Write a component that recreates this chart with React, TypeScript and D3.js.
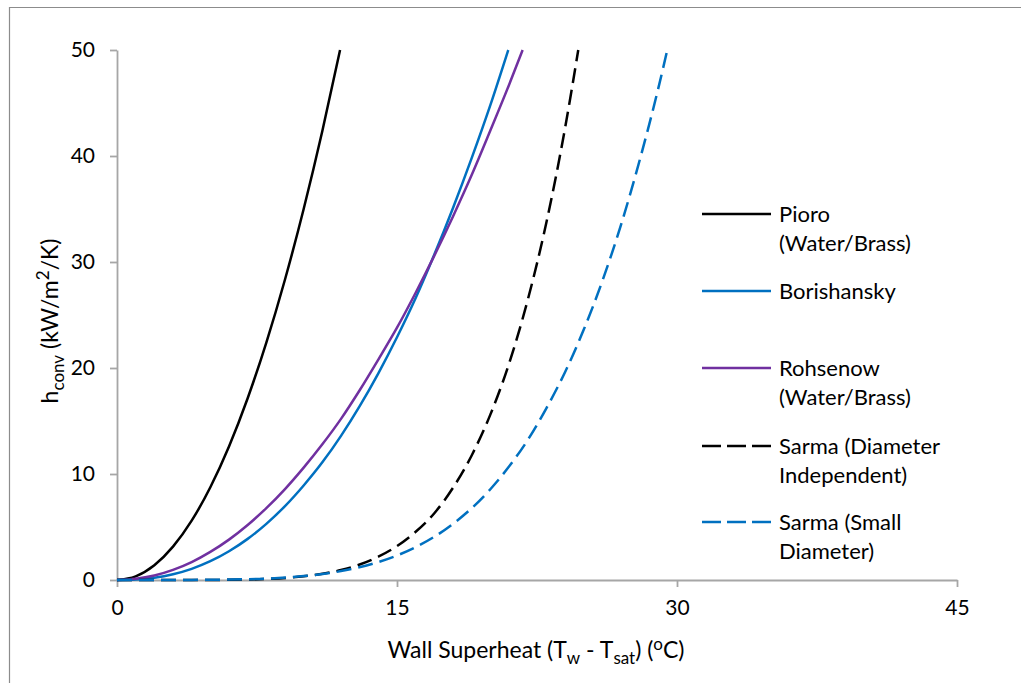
import * as d3 from "d3";
import { useEffect, useRef } from "react";

// wall superheat (°C) and h_conv (kW/m2/K)
const pioroT = [0, 1, 2, 3, 4, 5, 6, 7, 8, 9, 10, 11, 11.95];
const pioroH = [0, 0.35, 1.4, 3.15, 5.6, 8.75, 12.6, 17.15, 22.4, 28.35, 35.0, 42.35, 50];

const borishT = [0, 1, 2, 3, 4, 5, 6, 7, 8, 9, 10, 11, 12, 13, 14, 15, 16, 17, 18, 19, 20, 20.96];
const borishH = [0, 0.04, 0.21, 0.54, 1.05, 1.77, 2.71, 3.88, 5.3, 6.97, 8.92, 11.1, 13.6, 16.4, 19.5, 22.9, 26.6, 30.7, 35.1, 39.8, 44.8, 50];

const rohsT = [0, 1, 2, 3, 4, 5, 6, 7, 8, 9, 10, 11, 12, 13, 14, 15, 16, 17, 18, 19, 20, 21, 21.73];
const rohsH = [0, 0.11, 0.42, 0.95, 1.69, 2.65, 3.81, 5.19, 6.78, 8.58, 10.6, 12.8, 15.2, 17.9, 20.8, 23.8, 27.1, 30.6, 34.3, 38.2, 42.4, 46.7, 50];

const sarmaDiT = [0, 4, 6, 8, 10, 12, 13, 14, 15, 16, 17, 18, 19, 20, 21, 22, 23, 24, 24.71];
const sarmaDiH = [0, 0.0, 0.02, 0.1, 0.35, 0.94, 1.46, 2.2, 3.2, 4.55, 6.3, 8.7, 11.75, 15.6, 20.4, 26.4, 33.7, 42.6, 50];

const sarmaSmT = [0, 4, 6, 8, 10, 12, 14, 15, 16, 17, 18, 19, 20, 21, 22, 23, 24, 25, 26, 27, 28, 29, 29.48];
const sarmaSmH = [0, 0.01, 0.04, 0.13, 0.37, 0.84, 1.69, 2.31, 3.1, 4.08, 5.3, 6.77, 8.56, 10.7, 13.2, 16.2, 19.6, 23.6, 28.2, 33.5, 39.6, 46.4, 50];

const xTicks = [0, 15, 30, 45];
const yTicks = [0, 10, 20, 30, 40, 50];

const series = [
  { name: ["Pioro", "(Water/Brass)"], t: pioroT, h: pioroH, color: "#000000", dash: null, ly: 214 },
  { name: ["Borishansky"], t: borishT, h: borishH, color: "#0070c0", dash: null, ly: 291 },
  { name: ["Rohsenow", "(Water/Brass)"], t: rohsT, h: rohsH, color: "#7030a0", dash: null, ly: 368 },
  { name: ["Sarma (Diameter", "Independent)"], t: sarmaDiT, h: sarmaDiH, color: "#000000", dash: "15,7", ly: 446 },
  { name: ["Sarma (Small", "Diameter)"], t: sarmaSmT, h: sarmaSmH, color: "#0070c0", dash: "15,7", ly: 522 },
];

const App = () => {
  const ref = useRef<SVGSVGElement>(null);

  useEffect(() => {
    const svg = d3.select(ref.current);
    svg.selectAll("*").remove();
    const font = "Lato, 'Open Sans', sans-serif";
    const axisColor = "#a6a6a6";

    // outer chart frame (only top and left edges visible)
    svg.append("path")
      .attr("d", "M9.5,683 V7.5 H1021")
      .attr("fill", "none")
      .attr("stroke", "#8c8c8c")
      .attr("stroke-width", 1.2);

    const x = d3.scaleLinear().domain([0, 45]).range([117, 957]);
    const y = d3.scaleLinear().domain([0, 50]).range([580, 50]);

    // axes
    const yAxis = svg.append("g")
      .attr("transform", "translate(117,0)")
      .call(d3.axisLeft(y).tickValues(yTicks).tickSize(7).tickSizeOuter(0).tickPadding(15));
    const xAxis = svg.append("g")
      .attr("transform", "translate(0,580)")
      .call(d3.axisBottom(x).tickValues(xTicks).tickSize(7).tickSizeOuter(0).tickPadding(13));
    [xAxis, yAxis].forEach((g) => {
      g.select(".domain").attr("stroke", axisColor).attr("stroke-width", 1.8);
      g.selectAll(".tick line").attr("stroke", axisColor).attr("stroke-width", 1.8);
      g.selectAll(".tick text")
        .attr("fill", "#000")
        .style("font-family", font)
        .style("font-size", "21px");
    });

    // curves
    const line = d3.line<[number, number]>()
      .x((d) => x(d[0]))
      .y((d) => y(d[1]))
      .curve(d3.curveMonotoneX);

    series.forEach((s) => {
      const pts = s.t.map((t, i) => [t, s.h[i]] as [number, number]);
      svg.append("path")
        .attr("d", line(pts))
        .attr("fill", "none")
        .attr("stroke", s.color)
        .attr("stroke-width", 2.5)
        .attr("stroke-dasharray", s.dash);
    });

    // legend
    series.forEach((s) => {
      svg.append("line")
        .attr("x1", 702).attr("x2", 771)
        .attr("y1", s.ly).attr("y2", s.ly)
        .attr("stroke", s.color)
        .attr("stroke-width", 2.5)
        .attr("stroke-dasharray", s.dash ? "19,6" : null);
      const txt = svg.append("text")
        .attr("x", 779)
        .attr("y", s.ly + 8)
        .style("font-family", font)
        .style("font-size", "22px");
      s.name.forEach((n, i) => {
        txt.append("tspan").attr("x", 779).attr("dy", i === 0 ? 0 : 29).text(n);
      });
    });

    // x title
    const xt = svg.append("text")
      .attr("x", 536).attr("y", 658)
      .attr("text-anchor", "middle")
      .style("font-family", font)
      .style("font-size", "23px");
    xt.append("tspan").text("Wall Superheat (T");
    xt.append("tspan").attr("dy", 6).style("font-size", "17px").text("w");
    xt.append("tspan").attr("dy", -6).text(" - T");
    xt.append("tspan").attr("dy", 6).style("font-size", "17px").text("sat");
    xt.append("tspan").attr("dy", -6).text(") (");
    xt.append("tspan").attr("dy", -8).style("font-size", "17px").text("o");
    xt.append("tspan").attr("dy", 8).text("C)");

    // y title
    const yt = svg.append("text")
      .attr("transform", "translate(58,321) rotate(-90)")
      .attr("text-anchor", "middle")
      .style("font-family", font)
      .style("font-size", "23px");
    yt.append("tspan").text("h");
    yt.append("tspan").attr("dy", 6).style("font-size", "17px").text("conv");
    yt.append("tspan").attr("dy", -6).text(" (kW/m");
    yt.append("tspan").attr("dy", -9).style("font-size", "17px").text("2");
    yt.append("tspan").attr("dy", 9).text("/K)");
  }, []);

  return (
    <svg
      ref={ref}
      width={1021}
      height={683}
      style={{ position: "absolute", left: 0, top: 0, background: "#fff" }}
    />
  );
};

export default App;
